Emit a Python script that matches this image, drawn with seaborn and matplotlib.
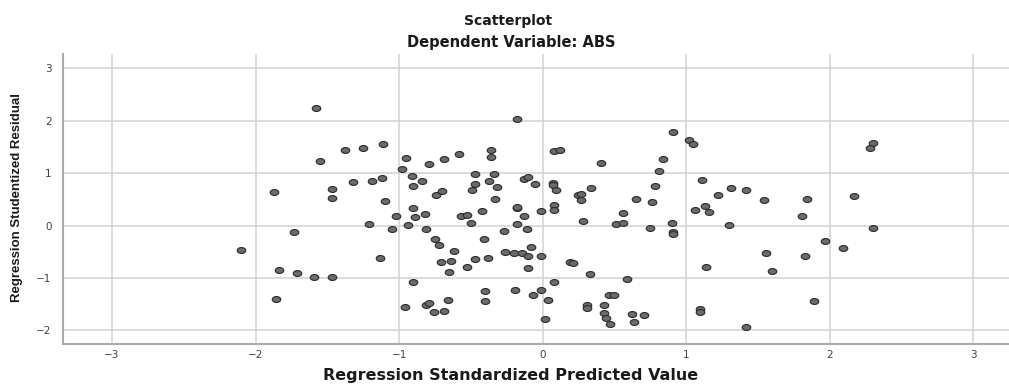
import numpy as np
import pandas as pd
import matplotlib
matplotlib.use("Agg")
import matplotlib.pyplot as plt
from matplotlib.path import Path
import seaborn as sns

# values
pred_left = [-1.87, -1.73, -2.10, -1.84, -1.71, -1.86, -1.58, -1.55, -1.38, -1.25,
             -1.11, -0.95, -0.98, -0.79, -0.69, -0.58, -0.36, -0.36, -0.18, -1.32,
             -1.19, -1.12, -1.47, -1.47, -1.10, -0.91, -0.90, -0.84, -0.74, -0.70,
             -0.47, -0.47, -0.49, -0.37, -0.34, -0.32, -0.33, -0.13, -0.10, -0.18,
             -0.18, -0.13, -0.18, -0.11, -1.21, -1.05, -1.02, -0.94, -0.90, -0.89,
             -0.82, -0.81, -0.75, -0.72, -0.62, -0.57, -0.53, -0.50, -0.42, -0.41,
             -0.27, -0.26, -0.20, -0.14, -0.10, -0.10, -0.71, -0.64, -0.65, -0.53,
             -0.47, -0.38, -1.13, -1.59, -1.47, -0.90, -0.96, -0.81, -0.79, -0.76,
             -0.69, -0.66, -0.40, -0.40, -0.19, -0.07]
resid_left = [0.64, -0.12, -0.47, -0.85, -0.90, -1.40, 2.23, 1.22, 1.43, 1.48,
              1.56, 1.29, 1.08, 1.18, 1.27, 1.37, 1.44, 1.31, 2.03, 0.82,
              0.85, 0.91, 0.70, 0.52, 0.47, 0.94, 0.75, 0.85, 0.59, 0.65,
              0.99, 0.80, 0.68, 0.84, 0.99, 0.74, 0.51, 0.89, 0.93, 0.34,
              0.36, 0.19, 0.03, -0.06, 0.02, -0.07, 0.18, 0.01, 0.33, 0.16,
              0.21, -0.07, -0.26, -0.37, -0.48, 0.19, 0.20, 0.05, 0.28, -0.25,
              -0.11, -0.50, -0.52, -0.52, -0.59, -0.80, -0.70, -0.68, -0.89, -0.79,
              -0.63, -0.62, -0.61, -0.99, -0.99, -1.08, -1.55, -1.51, -1.48, -1.64,
              -1.62, -1.41, -1.25, -1.43, -1.22, -1.32]

pred_right = [0.91, 1.02, 1.05, 0.08, 0.12, 0.41, 0.84, 0.81, 0.78, 0.65,
              0.76, 1.11, 1.22, 1.31, 1.42, 1.13, 1.16, 1.06, 1.30, 0.90,
              0.91, 0.91, 0.75, 0.51, 0.56, 0.56, 0.28, 0.34, 0.25, 0.27,
              0.27, -0.05, 0.07, 0.07, 0.09, 0.08, 0.08, -0.01, -0.08, -0.01,
              0.19, 0.21, 0.33, 0.59, 1.14, 0.08, -0.01, 0.04, 0.02, 0.46,
              0.50, 0.31, 0.31, 0.43, 0.43, 0.44, 0.47, 0.62, 0.64, 0.71,
              1.10, 1.10, 1.42, 2.30, 2.28, 1.54, 1.84, 1.81, 2.17, 2.30,
              1.97, 2.09, 1.56, 1.83, 1.60, 1.89]
resid_right = [1.79, 1.62, 1.55, 1.42, 1.44, 1.20, 1.27, 1.04, 0.76, 0.51,
               0.44, 0.87, 0.59, 0.71, 0.67, 0.38, 0.26, 0.30, 0.01, 0.05,
               -0.13, -0.17, -0.05, 0.02, 0.04, 0.24, 0.08, 0.72, 0.59, 0.60,
               0.49, 0.79, 0.81, 0.78, 0.68, 0.40, 0.30, 0.28, -0.40, -0.59,
               -0.70, -0.71, -0.92, -1.01, -0.79, -1.08, -1.23, -1.41, -1.78, -1.32,
               -1.32, -1.51, -1.57, -1.51, -1.67, -1.76, -1.88, -1.69, -1.83, -1.70,
               -1.59, -1.64, -1.94, 1.57, 1.47, 0.49, 0.51, 0.19, 0.56, -0.04,
               -0.30, -0.43, -0.53, -0.59, -0.86, -1.43]

x_ticks = [-3, -2, -1, 0, 1, 2, 3]
y_ticks = [-2, -1, 0, 1, 2, 3]

df = pd.DataFrame({
    "pred": pred_left + pred_right,
    "resid": resid_left + resid_right,
})

sns.set_style("white")
plt.rcParams["font.family"] = ["DejaVu Sans"]

# SPSS picture was stretched sideways, so the dots are flat ellipses
t = np.linspace(0, 2 * np.pi, 40)
ellipse = Path(np.column_stack([1.45 * np.cos(t), np.sin(t)]), closed=True)

fig = plt.figure(figsize=(10.09, 3.85), dpi=100)
ax = fig.add_axes([0.0627, 0.1057, 0.9373, 0.754])

sns.scatterplot(data=df, x="pred", y="resid", ax=ax, marker=ellipse, s=38,
                color="#6b6b6b", edgecolor="#2b2b2b", linewidth=0.8, zorder=3)

ax.set_xlim(-3.34, 3.25)
ax.set_ylim(-2.263, 3.267)
ax.set_xticks(x_ticks)
ax.set_yticks(y_ticks)
ax.grid(True, color="#d2d2d2", linewidth=1.1)
ax.set_axisbelow(True)
ax.tick_params(length=0, labelsize=7.5, labelcolor="#404040")
ax.tick_params(axis="x", pad=4)
ax.tick_params(axis="y", pad=8.5)

for side in ["top", "right"]:
    ax.spines[side].set_visible(False)
for side in ["left", "bottom"]:
    ax.spines[side].set_color("#ababab")
    ax.spines[side].set_linewidth(1.5)

ax.set_xlabel("")
ax.set_ylabel("")

fig.text(0.504, 0.935, "Scatterplot", ha="center", va="baseline",
         fontsize=10, fontweight="bold", color="#1a1a1a")
fig.text(0.507, 0.879, "Dependent Variable: ABS", ha="center", va="baseline",
         fontsize=10.5, fontweight="bold", color="#1a1a1a")
fig.text(0.506, 0.014, "Regression Standardized Predicted Value", ha="center",
         va="baseline", fontsize=11.5, fontweight="bold", color="#1a1a1a")
fig.text(0.017, 0.487, "Regression Studentized Residual", ha="center", va="center",
         rotation=90, fontsize=9.5, fontweight="bold", color="#1a1a1a",
         family=["Liberation Sans", "DejaVu Sans"])

fig.savefig("out.png", dpi=100)
